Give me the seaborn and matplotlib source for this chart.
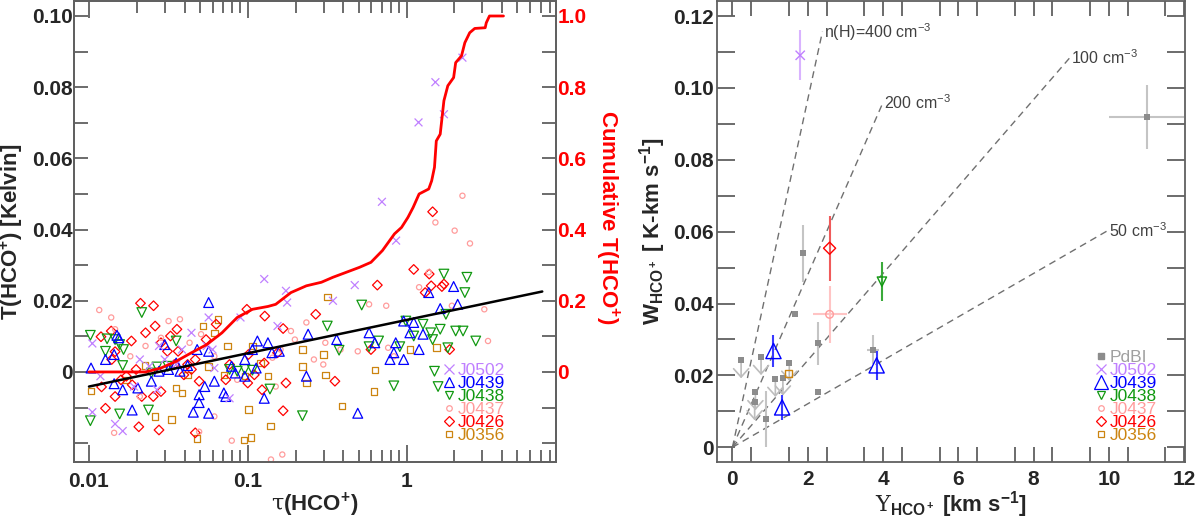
import numpy as np
import pandas as pd
import seaborn as sns
import matplotlib.pyplot as plt
from matplotlib.ticker import FixedLocator, FixedFormatter, NullFormatter
from matplotlib.lines import Line2D

# ---------------- left panel data: T(HCO+) against tau(HCO+) ----------------
j0502_tau = [0.0105, 0.0105, 0.0118, 0.0146, 0.0163, 0.0209, 0.0240, 0.0276, 0.0300, 0.0354,
             0.0385, 0.0442, 0.0552, 0.0600, 0.0616, 0.0768, 0.0900, 0.127, 0.154, 0.174,
             0.177, 0.344, 0.472, 0.0567, 0.0268, 0.0192, 2.25, 1.52, 1.19, 1.72, 0.70, 0.86]
j0502_T = [0.0080, -0.0113, -0.0012, -0.0146, -0.0166, 0.0035, 0.0016, 0.0073, 0.0035, 0.0021,
           0.0063, 0.0110, 0.0073, 0.0063, 0.0011, -0.0074, 0.0153, 0.0261, 0.0129, 0.0228,
           0.0195, 0.0200, 0.0244, 0.0153, -0.0050, -0.0041, 0.0883, 0.0814, 0.0701, 0.0724, 0.0478, 0.0369]

j0439_tau = [0.0103, 0.0127, 0.0144, 0.0150, 0.0154, 0.0144, 0.0163, 0.0187, 0.0203, 0.0247,
             0.0276, 0.0317, 0.0354, 0.0418, 0.0454, 0.0480, 0.0494, 0.0494, 0.0536, 0.0567,
             0.0567, 0.0567, 0.0616, 0.0707, 0.0727, 0.0790, 0.0835, 0.0958, 0.113, 0.115,
             0.127, 0.134, 0.142, 0.158, 0.234, 0.240, 0.363, 0.493, 0.581, 0.631,
             0.787, 0.832, 0.855, 0.959, 0.959, 1.05, 1.11, 1.20, 1.27, 1.38,
             1.63, 1.98, 2.10, 0.030, 0.0374, 0.0958, 0.107]
j0439_T = [0.0011, 0.0035, 0.0049, 0.0103, 0.0096, -0.0033, -0.0050, -0.0107, -0.0045, -0.0026,
           0.0002, 0.0007, 0.0025, 0.0018, -0.0113, 0.0063, -0.0064, -0.0086, -0.0041, -0.0116,
           0.0195, 0.0058, -0.0026, -0.0059, -0.0069, 0.0016, -0.0003, -0.0012, 0.0011, 0.0087,
           -0.0074, 0.0082, 0.0054, 0.0058, -0.0012, 0.0106, 0.0091, -0.0116, 0.0110, 0.0082,
           0.0035, 0.0054, 0.0082, 0.0035, 0.0143, 0.0110, 0.0139, 0.0063, 0.0106, 0.0223,
           0.0178, 0.0240, 0.0190, 0.0077, 0.0002, 0.0035, 0.0063]

j0438_tau = [0.0102, 0.0102, 0.0130, 0.0146, 0.0156, 0.0165, 0.0163, 0.0156, 0.0237, 0.0268,
             0.0314, 0.0354, 0.0768, 0.0858, 0.0958, 0.107, 0.138, 0.221, 0.317, 0.376,
             0.522, 0.581, 0.667, 0.832, 0.990, 0.907, 1.11, 1.27, 1.42, 1.46,
             1.50, 1.58, 1.63, 1.72, 1.77, 1.82, 2.04, 2.27, 2.33, 2.40,
             2.73, 0.0215, 0.0127, 0.0247]
j0438_T = [0.0103, -0.0137, 0.0093, 0.0091, 0.0077, 0.0063, 0.0018, -0.0118, -0.0107, 0.0014,
           0.0016, 0.0087, 0.0007, 0.0002, 0.0007, 0.0005, -0.0048, -0.0123, 0.0129, 0.0061,
           0.0188, 0.0071, 0.0087, -0.0039, 0.0143, 0.0071, 0.0101, 0.0134, 0.0110, 0.0091,
           0.0002, -0.0041, 0.0120, 0.0275, 0.0162, 0.0068, 0.0115, 0.0115, 0.0223, 0.0266,
           0.0087, 0.0167, 0.0058, -0.0003]

j0437_tau = [0.0116, 0.0138, 0.0146, 0.0182, 0.0227, 0.0284, 0.0317, 0.0374, 0.0430, 0.0508,
             0.0616, 0.0494, 0.0144, 0.0793, 0.140, 0.165, 0.143, 0.161, 0.187, 0.198,
             0.234, 0.299, 0.308, 0.384, 0.493, 0.581, 0.745, 0.766, 0.832, 1.20,
             1.38, 1.93, 3.09, 3.26, 0.150, 0.0616, 0.261, 0.0209, 0.0858, 2.25,
             1.52, 2.01, 2.51]
j0437_T = [0.0174, 0.0153, 0.0120, 0.0044, 0.0073, 0.0096, 0.0143, 0.0148, 0.0082, 0.0106,
           0.0044, -0.0168, -0.0171, -0.0193, -0.0246, -0.0232, 0.0040, 0.0063, 0.0115, 0.0091,
           0.0139, 0.0021, 0.0082, 0.0063, 0.0058, 0.0190, 0.0186, 0.0068, 0.0044, 0.0238,
           0.0280, 0.0186, 0.0176, 0.0087, -0.0041, -0.0125, 0.0035, -0.0069, -0.0022, 0.0495,
           0.0420, 0.0397, 0.0361]

j0426_tau = [0.0211, 0.0255, 0.0261, 0.0227, 0.0119, 0.0138, 0.0146, 0.0139, 0.0185, 0.0284,
             0.0326, 0.0358, 0.0312, 0.0364, 0.0198, 0.0172, 0.0159, 0.0120, 0.0146, 0.0127,
             0.0206, 0.0276, 0.0215, 0.0254, 0.0187, 0.0284, 0.0396, 0.0418, 0.0467, 0.0442,
             0.0494, 0.0546, 0.0632, 0.0987, 0.128, 0.167, 0.154, 0.127, 0.101, 0.0768,
             0.100, 0.110, 0.123, 0.167, 0.174, 0.268, 0.354, 0.655, 0.597, 1.11,
             1.39, 1.43, 1.31, 1.72, 1.67, 1.87, 0.0467, 1.46, 0.0727, 0.0345]
j0426_T = [0.0193, 0.0186, 0.0129, 0.0110, 0.0099, 0.0115, 0.0057, 0.0035, 0.0087, 0.0082,
           0.0101, 0.0120, 0.0058, 0.0058, 0.0007, -0.0012, -0.0022, -0.0042, -0.0069, -0.0102,
           -0.0154, -0.0163, -0.0069, -0.0069, -0.0036, -0.0055, -0.0008, 0.0021, 0.0035, 0.0007,
           -0.0026, 0.0091, 0.0134, 0.0176, 0.0157, 0.0122, 0.0054, 0.0025, 0.0049, 0.0021,
           -0.0031, -0.0008, -0.0050, -0.0109, -0.0031, 0.0162, -0.0026, 0.0244, 0.0063, 0.0288,
           0.0275, 0.0242, 0.0223, 0.0247, 0.0240, 0.0063, -0.0171, 0.0450, -0.0022, 0.0021]

j0356_tau = [0.0103, 0.0172, 0.0225, 0.0261, 0.0354, 0.0385, 0.0418, 0.0480, 0.0522, 0.0616,
             0.0651, 0.0707, 0.0748, 0.0958, 0.101, 0.0944, 0.105, 0.107, 0.120, 0.134,
             0.139, 0.221, 0.221, 0.234, 0.299, 0.308, 0.317, 0.392, 0.625, 0.631,
             1.05, 1.54, 0.0331, 0.0567]
j0356_T = [-0.0053, -0.0022, 0.0018, -0.0125, -0.0045, -0.0059, -0.0008, -0.0187, 0.0129, 0.0110,
           0.0148, -0.0008, 0.0073, -0.0012, -0.0105, -0.0191, -0.0184, 0.0073, 0.0025, -0.0012,
           -0.0152, 0.0016, 0.0063, -0.0031, 0.0049, -0.0008, 0.0211, -0.0095, -0.0055, 0.0005,
           0.0063, 0.0068, -0.0133, 0.0016]

# cumulative T(HCO+) (red curve, right-hand axis)
cum_tau = [0.0100, 0.0138, 0.0172, 0.0227, 0.0284, 0.0354, 0.0442, 0.0552, 0.0688, 0.0858,
           0.107, 0.134, 0.150, 0.187, 0.234, 0.291, 0.344, 0.406, 0.506, 0.597,
           0.705, 0.84, 0.93, 1.02, 1.10, 1.20, 1.38, 1.44, 1.50, 1.54,
           1.63, 1.72, 1.82, 1.98, 2.04, 2.22, 2.33, 2.50, 2.69, 3.13,
           3.18, 3.33, 4.08]
cum_frac = [0.0, 0.0, 0.0, 0.0, 0.011, 0.030, 0.054, 0.077, 0.110, 0.153,
            0.176, 0.184, 0.190, 0.223, 0.242, 0.252, 0.266, 0.278, 0.294, 0.308,
            0.341, 0.388, 0.406, 0.434, 0.462, 0.500, 0.514, 0.537, 0.575, 0.649,
            0.668, 0.762, 0.804, 0.827, 0.869, 0.888, 0.925, 0.953, 0.965, 0.967,
            0.981, 1.0, 1.0]

# fitted trend (black line)
fit_tau = [0.0100, 7.16]
fit_T = [-0.0041, 0.0226]

# ---------------- right panel data: W(HCO+) against Upsilon(HCO+) ----------------
pdbi_x = [0.23, 0.76, 0.61, 0.59, 0.89, 1.14, 1.34, 1.51, 1.66, 1.88, 2.27, 2.27, 3.73, 11.0]
pdbi_y = [0.0242, 0.0251, 0.0153, 0.0125, 0.0078, 0.0190, 0.0194, 0.0235, 0.0370, 0.0540,
          0.0290, 0.0155, 0.0272, 0.0920]
pdbi_xerr = [0, 0, 0, 0, 0, 0, 0, 0, 0, 0, 0, 0, 0.15, 1.0]
pdbi_yerr = [0, 0, 0, 0, 0.0078, 0, 0, 0, 0, 0.008, 0.006, 0, 0.004, 0.0089]
pdbi_uplim = [1, 1, 1, 1, 0, 1, 1, 1, 0, 0, 0, 0, 0, 0]
uplim_len = 0.005

r_x = {'J0502': [1.80], 'J0439': [1.09, 1.32, 3.83], 'J0438': [3.97],
       'J0437': [2.58], 'J0426': [2.58], 'J0356': [1.49]}
r_y = {'J0502': [0.1091], 'J0439': [0.0268, 0.0111, 0.0228], 'J0438': [0.0461],
       'J0437': [0.0370], 'J0426': [0.0554], 'J0356': [0.0205]}
r_xerr = {'J0502': [0], 'J0439': [0, 0, 0], 'J0438': [0],
          'J0437': [0.45], 'J0426': [0], 'J0356': [0]}
r_yerr = {'J0502': [0.007], 'J0439': [0.0045, 0.0034, 0.004], 'J0438': [0.0055],
          'J0437': [0.008], 'J0426': [0.009], 'J0356': [0]}

# density model lines W = k * Upsilon
dens_label = ['n(H)=400 cm$^{-3}$', '200 cm$^{-3}$', '100 cm$^{-3}$', '50 cm$^{-3}$']
dens_slope = [0.0484, 0.0240, 0.0121, 0.00605]
dens_xend = [2.39, 4.0, 8.97, 9.96]

sources = ['J0502', 'J0439', 'J0438', 'J0437', 'J0426', 'J0356']
src_colors = ['#c080ff', '#0000ff', '#119911', '#ff9c9c', '#ff0000', '#cc8410']
src_ecolors = ['#d9b3ff', '#3a3aff', '#3aaa3a', '#ffc4c4', '#f05a5a', '#cc8410']
src_markers = ['x', '^', 'v', 'o', 'D', 's']
src_sizes = [32, 50, 48, 14, 24, 22]
r_sizes = [45, 120, 45, 30, 38, 22]

sns.set_style('ticks')
plt.rcParams['font.family'] = ['Liberation Sans', 'DejaVu Sans']
plt.rcParams['mathtext.fontset'] = 'custom'
plt.rcParams['mathtext.rm'] = 'Liberation Sans'
plt.rcParams['mathtext.bf'] = 'Liberation Sans:bold'
plt.rcParams['mathtext.it'] = 'Liberation Sans:italic'
plt.rcParams['mathtext.sf'] = 'DejaVu Serif'
plt.rcParams['axes.edgecolor'] = '#606060'
plt.rcParams['axes.linewidth'] = 1.3

fig = plt.figure(figsize=(12, 5.19), dpi=100)
ax1 = fig.add_axes([0.0617, 0.1098, 0.4017, 0.8882])
ax2 = fig.add_axes([0.5975, 0.1098, 0.3900, 0.8882])

lab_font = dict(fontsize=16, fontweight='bold')
tick_col = '#606060'

# ---------------- left panel ----------------
left_tau = [j0502_tau, j0439_tau, j0438_tau, j0437_tau, j0426_tau, j0356_tau]
left_T = [j0502_T, j0439_T, j0438_T, j0437_T, j0426_T, j0356_T]
df = pd.concat([pd.DataFrame({'tau': t, 'T': v, 'source': s})
                for s, t, v in zip(sources, left_tau, left_T)], ignore_index=True)

for name, col, mk, sz in list(zip(sources, src_colors, src_markers, src_sizes))[::-1]:
    sub = df[df['source'] == name]
    sns.scatterplot(data=sub, x='tau', y='T', marker=mk, s=sz, color=col, ax=ax1, legend=False)
    coll = ax1.collections[-1]
    coll.set_facecolor('none')
    coll.set_edgecolor(col)
    coll.set_linewidth(0.9)

sns.lineplot(x=fit_tau, y=fit_T, ax=ax1, color='black', linewidth=1.8, estimator=None, sort=False)

ax1.set_xscale('log')
ax1.set_xlim(0.00805, 8.75)
ax1.set_ylim(-0.0253, 0.1042)

ax1t = ax1.twinx()
sns.lineplot(x=cum_tau, y=cum_frac, ax=ax1t, color='red', linewidth=2.0, estimator=None, sort=False)
ax1t.set_ylim(-0.253, 1.042)
ax1t.set_xlim(0.00805, 8.75)

# ticks
ax1.yaxis.set_major_locator(FixedLocator([-0.02, 0, 0.02, 0.04, 0.06, 0.08, 0.10]))
ax1.yaxis.set_major_formatter(FixedFormatter(['', '0', '0.02', '0.04', '0.06', '0.08', '0.10']))
ax1.yaxis.set_minor_locator(FixedLocator([-0.01, 0.01, 0.03, 0.05, 0.07, 0.09]))
ax1.xaxis.set_major_locator(FixedLocator([0.01, 0.1, 1]))
ax1.xaxis.set_major_formatter(FixedFormatter(['0.01', '0.1', '1']))
minors = [m * d for d in [0.01, 0.1, 1] for m in range(2, 10) if m * d < 8.7]
ax1.xaxis.set_minor_locator(FixedLocator(minors))
ax1.xaxis.set_minor_formatter(NullFormatter())
ax1.tick_params(axis='y', which='both', direction='in', length=10, width=1.3, color=tick_col,
                left=True, right=False, pad=1, labelsize=15)
ax1.tick_params(axis='x', which='major', direction='in', length=12, width=1.3, color=tick_col,
                top=True, bottom=True, pad=7, labelsize=15)
ax1.tick_params(axis='x', which='minor', direction='in', length=8.5, width=1.3, color=tick_col,
                top=True, bottom=True)
for lab in ax1.get_xticklabels() + ax1.get_yticklabels():
    lab.set_fontweight('bold')

ax1t.yaxis.set_major_locator(FixedLocator([-0.2, 0, 0.2, 0.4, 0.6, 0.8, 1.0]))
ax1t.yaxis.set_major_formatter(FixedFormatter(['', '0', '0.2', '0.4', '0.6', '0.8', '1.0']))
ax1t.yaxis.set_minor_locator(FixedLocator([-0.1, 0.1, 0.3, 0.5, 0.7, 0.9]))
ax1t.tick_params(axis='y', which='both', direction='in', length=10, width=1.3, color=tick_col,
                 labelcolor='red', pad=1, labelsize=15)
for lab in ax1t.get_yticklabels():
    lab.set_fontweight('bold')

ax1.set_xlabel(r'$\mathsf{\tau}$(HCO$^{\mathbf{+}}$)', **lab_font, labelpad=0)
ax1.set_ylabel(r'T(HCO$^{\mathbf{+}}$) [Kelvin]', **lab_font, labelpad=4)
ax1t.set_ylabel(r'Cumulative T(HCO$^{\mathbf{+}}$)', color='red', fontsize=16, fontweight='bold',
                rotation=270, rotation_mode='anchor', va='bottom', ha='center')
ax1t.yaxis.set_label_coords(1.077, 0.53)

h_left = [Line2D([], [], linestyle='none', marker=mk, markersize=ms, markerfacecolor='none',
                 markeredgecolor=col, markeredgewidth=0.9)
          for mk, col, ms in zip(src_markers, src_colors, [7, 7, 6, 4, 5, 5])]
leg1 = ax1.legend(h_left, sources, loc='lower right', bbox_to_anchor=(0.915, 0.018), frameon=False,
                  fontsize=12.5, handlelength=0.7, handletextpad=0.15, labelspacing=-0.12,
                  borderaxespad=0.2)
for txt, col in zip(leg1.get_texts(), src_colors):
    txt.set_color(col)

# ---------------- right panel ----------------
for lbl, k, xe in zip(dens_label, dens_slope, dens_xend):
    xs = np.array([0.0, xe])
    sns.lineplot(x=xs, y=k * xs, ax=ax2, color='#707070', linewidth=1.0,
                 linestyle=(0, (5, 3.5)), estimator=None, sort=False)
    ax2.text(xe + 0.03, k * xe, lbl, fontsize=11.5, color='#404040', ha='left', va='center')

pd_df = pd.DataFrame({'x': pdbi_x, 'y': pdbi_y, 'xerr': pdbi_xerr, 'yerr': pdbi_yerr,
                      'uplim': pdbi_uplim})
err = pd_df[(pd_df['xerr'] > 0) | (pd_df['yerr'] > 0)]
ax2.errorbar(err['x'], err['y'], xerr=err['xerr'], yerr=err['yerr'], fmt='none',
             ecolor='#c4c4c4', elinewidth=1.5, capsize=0, zorder=2)
for _, r in pd_df[pd_df['uplim'] == 1].iterrows():
    ax2.annotate('', xy=(r['x'], r['y'] - uplim_len), xytext=(r['x'], r['y']),
                 arrowprops=dict(arrowstyle='->,head_width=0.45,head_length=0.5',
                                 color='#bdbdbd', lw=1.2, shrinkA=0, shrinkB=0,
                                 mutation_scale=12), zorder=2)
sns.scatterplot(data=pd_df, x='x', y='y', marker='s', s=22, color='#8c8c8c', linewidth=0,
                ax=ax2, legend=False, zorder=3)

for name, col, ecol, mk, sz in zip(sources, src_colors, src_ecolors, src_markers, r_sizes):
    ax2.errorbar(r_x[name], r_y[name], xerr=r_xerr[name], yerr=r_yerr[name], fmt='none',
                 ecolor=ecol, elinewidth=1.5, capsize=0, zorder=4)
    sns.scatterplot(x=r_x[name], y=r_y[name], marker=mk, s=sz, color=col, ax=ax2,
                    legend=False, zorder=5)
    coll = ax2.collections[-1]
    coll.set_facecolor('none')
    coll.set_edgecolor(col)
    coll.set_linewidth(1.0)

ax2.set_xlim(-0.41, 12.02)
ax2.set_ylim(-0.0041, 0.1242)
ax2.xaxis.set_major_locator(FixedLocator([0, 2, 4, 6, 8, 10, 12]))
ax2.xaxis.set_minor_locator(FixedLocator(np.arange(0.5, 12, 1.0)))
ax2.yaxis.set_major_locator(FixedLocator([0, 0.02, 0.04, 0.06, 0.08, 0.10, 0.12]))
ax2.yaxis.set_major_formatter(FixedFormatter(['0', '0.02', '0.04', '0.06', '0.08', '0.10', '0.12']))
ax2.yaxis.set_minor_locator(FixedLocator([0.01, 0.03, 0.05, 0.07, 0.09, 0.11]))
ax2.tick_params(axis='both', which='both', direction='in', length=11, width=1.3, color=tick_col,
                top=True, right=True, labelsize=15)
ax2.tick_params(axis='y', which='both', length=13, pad=2)
ax2.tick_params(axis='x', which='both', pad=6)
for lab in ax2.get_xticklabels() + ax2.get_yticklabels():
    lab.set_fontweight('bold')

ax2.set_xlabel(r'$\mathsf{\Upsilon}_{\mathbf{HCO^+}}$ [km s$^{\mathbf{-1}}$]', **lab_font, labelpad=0)
ax2.set_ylabel(r'W$_{\mathbf{HCO^+}}$ [ K-km s$^{\mathbf{-1}}$]', **lab_font, labelpad=4)

h_right = [Line2D([], [], linestyle='none', marker='s', markersize=4.5, markerfacecolor='#8c8c8c',
                  markeredgecolor='#8c8c8c')]
h_right += [Line2D([], [], linestyle='none', marker=mk, markersize=ms, markerfacecolor='none',
                   markeredgecolor=col, markeredgewidth=0.9)
            for mk, col, ms in zip(src_markers, src_colors, [7, 10, 6, 4, 5, 5])]
leg2 = ax2.legend(h_right, ['PdBI'] + sources, loc='lower right', bbox_to_anchor=(0.962, 0.018),
                  frameon=False, fontsize=12.5, handlelength=0.8, handletextpad=0.1,
                  labelspacing=-0.12, borderaxespad=0.2)
for txt, col in zip(leg2.get_texts(), ['#a0a0a0'] + src_colors):
    txt.set_color(col)

fig.savefig('out.png', dpi=100)
